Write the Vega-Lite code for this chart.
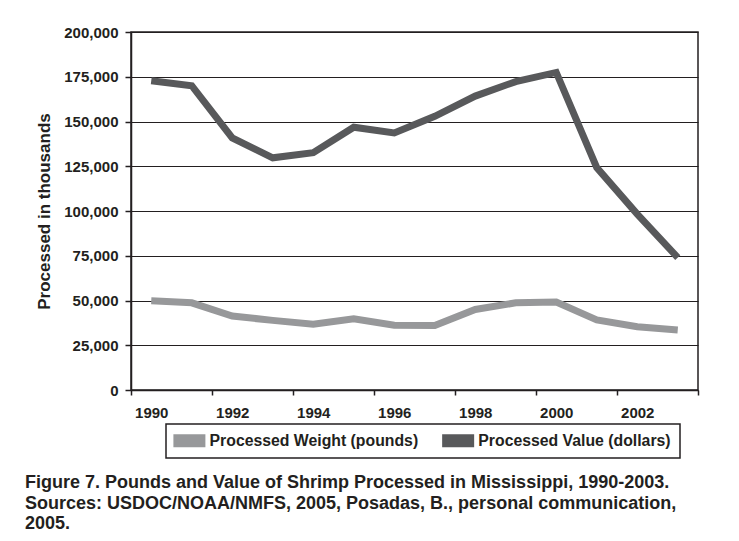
{
  "$schema": "https://vega.github.io/schema/vega-lite/v6.json",
  "autosize": {"type": "none"},
  "width": 567,
  "height": 358,
  "padding": {"left": 131, "top": 32, "right": 41, "bottom": 151},
  "background": "white",
  "config": {
    "font": "Liberation Sans",
    "view": {"stroke": "#231f20", "strokeWidth": 1.5},
    "legend": {"strokeWidth": 1.5}
  },
  "title": {
    "text": [
      "Figure 7. Pounds and Value of Shrimp Processed in Mississippi, 1990-2003.",
      "Sources: USDOC/NOAA/NMFS, 2005, Posadas, B., personal communication,",
      "2005."
    ],
    "orient": "bottom",
    "anchor": "start",
    "frame": "group",
    "dx": -106,
    "offset": 15.5,
    "fontSize": 18,
    "fontWeight": "bold",
    "lineHeight": 20.5,
    "color": "#231f20",
    "font": "Liberation Sans"
  },
  "data": {
    "values": [
      {"year": 1990, "series": "Processed Weight (pounds)", "value": 49800},
      {"year": 1991, "series": "Processed Weight (pounds)", "value": 48700},
      {"year": 1992, "series": "Processed Weight (pounds)", "value": 41300},
      {"year": 1993, "series": "Processed Weight (pounds)", "value": 38900},
      {"year": 1994, "series": "Processed Weight (pounds)", "value": 36700},
      {"year": 1995, "series": "Processed Weight (pounds)", "value": 39800},
      {"year": 1996, "series": "Processed Weight (pounds)", "value": 36200},
      {"year": 1997, "series": "Processed Weight (pounds)", "value": 36000},
      {"year": 1998, "series": "Processed Weight (pounds)", "value": 45000},
      {"year": 1999, "series": "Processed Weight (pounds)", "value": 48700},
      {"year": 2000, "series": "Processed Weight (pounds)", "value": 49100},
      {"year": 2001, "series": "Processed Weight (pounds)", "value": 39200},
      {"year": 2002, "series": "Processed Weight (pounds)", "value": 35300},
      {"year": 2003, "series": "Processed Weight (pounds)", "value": 33500},
      {"year": 1990, "series": "Processed Value (dollars)", "value": 172800},
      {"year": 1991, "series": "Processed Value (dollars)", "value": 170000},
      {"year": 1992, "series": "Processed Value (dollars)", "value": 140800},
      {"year": 1993, "series": "Processed Value (dollars)", "value": 129700},
      {"year": 1994, "series": "Processed Value (dollars)", "value": 132600},
      {"year": 1995, "series": "Processed Value (dollars)", "value": 146800},
      {"year": 1996, "series": "Processed Value (dollars)", "value": 143600},
      {"year": 1997, "series": "Processed Value (dollars)", "value": 152900},
      {"year": 1998, "series": "Processed Value (dollars)", "value": 164200},
      {"year": 1999, "series": "Processed Value (dollars)", "value": 172300},
      {"year": 2000, "series": "Processed Value (dollars)", "value": 177400},
      {"year": 2001, "series": "Processed Value (dollars)", "value": 124300},
      {"year": 2002, "series": "Processed Value (dollars)", "value": 98300},
      {"year": 2003, "series": "Processed Value (dollars)", "value": 74000}
    ]
  },
  "mark": {"type": "line", "strokeWidth": 7, "strokeJoin": "miter", "strokeCap": "butt"},
  "encoding": {
    "x": {
      "field": "year",
      "type": "quantitative",
      "scale": {"domain": [1989.5, 2003.5], "nice": false, "zero": false},
      "axis": {
        "title": null,
        "values": [1989.5, 1991.5, 1993.5, 1995.5, 1997.5, 1999.5, 2001.5, 2003.5],
        "labelExpr": "datum.value > 2003 ? '' : format(datum.value + 0.5, 'd')",
        "labelOffset": 20.25,
        "labelFlush": false,
        "labelBound": false,
        "labelOverlap": false,
        "labelFont": "Liberation Sans",
        "labelFontSize": 15,
        "labelFontWeight": "bold",
        "labelColor": "#231f20",
        "labelPadding": 10,
        "tickSize": 5,
        "tickColor": "#231f20",
        "tickWidth": 1.5,
        "domainColor": "#231f20",
        "domainWidth": 1.5,
        "grid": false
      }
    },
    "y": {
      "field": "value",
      "type": "quantitative",
      "scale": {"domain": [0, 200000], "nice": false},
      "axis": {
        "title": "Processed in thousands",
        "titleFont": "Liberation Sans",
        "titleFontSize": 17,
        "titleFontWeight": "bold",
        "titleColor": "#231f20",
        "titlePadding": 10,
        "values": [0, 25000, 50000, 75000, 100000, 125000, 150000, 175000, 200000],
        "format": ",.0f",
        "labelFont": "Liberation Sans",
        "labelFontSize": 15,
        "labelFontWeight": "bold",
        "labelColor": "#231f20",
        "labelPadding": 7,
        "tickSize": 6,
        "tickColor": "#231f20",
        "tickWidth": 1.5,
        "domainColor": "#231f20",
        "domainWidth": 1.5,
        "grid": true,
        "gridColor": "#231f20",
        "gridWidth": 1
      }
    },
    "color": {
      "field": "series",
      "type": "nominal",
      "scale": {
        "domain": ["Processed Weight (pounds)", "Processed Value (dollars)"],
        "range": ["#97989a", "#58595b"]
      },
      "legend": {
        "title": null,
        "orient": "none",
        "legendX": 35,
        "legendY": 392,
        "direction": "horizontal",
        "strokeColor": "#231f20",
        "padding": 8.75,
        "symbolType": "M-2.4615,-1H2.4615V1H-2.4615Z",
        "symbolSize": 169,
        "symbolStrokeWidth": 0,
        "symbolOffset": 6.75,
        "symbolOpacity": 1,
        "encode": {
          "symbols": {
            "update": {
              "fill": {"scale": "color", "field": "value"},
              "strokeWidth": {"value": 0}
            }
          }
        },
        "labelFont": "Liberation Sans",
        "labelFontSize": 15.8,
        "labelFontWeight": "bold",
        "labelColor": "#231f20",
        "labelOffset": 12.25,
        "labelLimit": 400,
        "columnPadding": 22.75
      }
    }
  }
}
